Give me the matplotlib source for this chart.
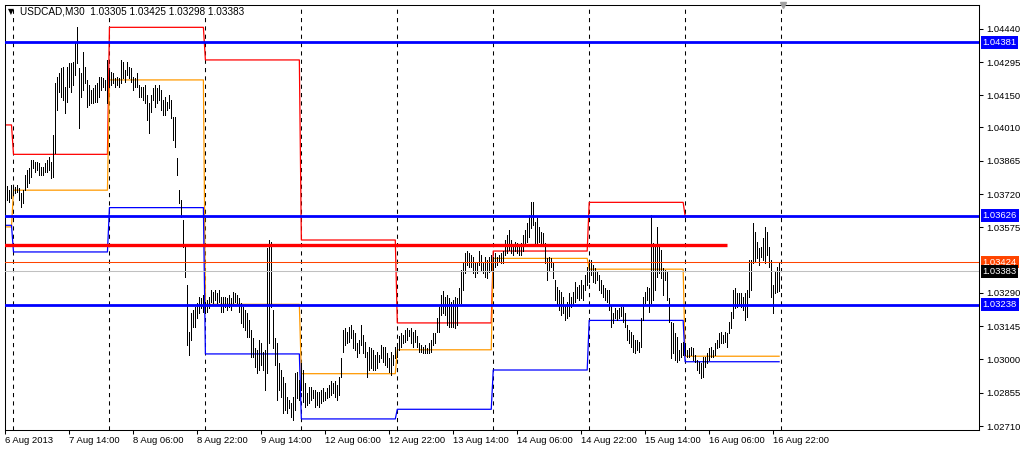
import numpy as np
import pandas as pd
import matplotlib
matplotlib.use("Agg")
import matplotlib.pyplot as plt
import matplotlib.transforms as mtransforms

plt.rcParams["font.family"] = ["Liberation Sans", "DejaVu Sans"]

# USDCAD M30, first bar 6 Aug 2013 22:00, last bar 16 Aug 2013 23:30
first_bar = "2013-08-06 22:00"
last_bar = "2013-08-16 23:30"
last_ohlc = [1.03305, 1.03425, 1.03298, 1.03383]

highs = [
    1.03752, 1.03757, 1.03738, 1.03760, 1.03757, 1.03752, 1.03760, 1.03745, 1.03723, 1.03738,
    1.03803, 1.03825, 1.03832, 1.03869, 1.03869, 1.03861, 1.03861, 1.03854, 1.03839, 1.03839,
    1.03854, 1.03869, 1.03883, 1.03861, 1.03977, 1.04202, 1.04231, 1.04246, 1.04268, 1.04275,
    1.04188, 1.04275, 1.04289, 1.04289, 1.04297, 1.04384, 1.04449, 1.04268, 1.04246, 1.04340,
    1.04275, 1.04217, 1.04195, 1.04173, 1.04180, 1.04195, 1.04202, 1.04231, 1.04231, 1.04224,
    1.04217, 1.04304, 1.04260, 1.04253, 1.04246, 1.04224, 1.04231, 1.04224, 1.04304, 1.04297,
    1.04260, 1.04297, 1.04275, 1.04268, 1.04231, 1.04224, 1.04246, 1.04195, 1.04188, 1.04188,
    1.04195, 1.04151, 1.04115, 1.04151, 1.04180, 1.04195, 1.04180, 1.04195, 1.04173, 1.04130,
    1.04144, 1.04122, 1.04151, 1.04129, 1.04057, 1.04057, 1.03875, 1.03738, 1.03694, 1.03607,
    1.03491, 1.03324, 1.03121, 1.03201, 1.03215, 1.03230, 1.03244, 1.03273, 1.03266, 1.03280,
    1.03251, 1.03259, 1.03273, 1.03302, 1.03295, 1.03302, 1.03288, 1.03302, 1.03273, 1.03273,
    1.03273, 1.03266, 1.03280, 1.03266, 1.03295, 1.03288, 1.03280, 1.03266, 1.03244, 1.03230,
    1.03215, 1.03201, 1.03171, 1.03128, 1.03092, 1.03048, 1.03041, 1.03084, 1.03070, 1.03034,
    1.03041, 1.03484, 1.03520, 1.03513, 1.03215, 1.03092, 1.03070, 1.02983, 1.02954, 1.02925,
    1.02896, 1.02838, 1.02823, 1.02809, 1.02838, 1.02939, 1.02947, 1.02910, 1.02983, 1.02954,
    1.02896, 1.02852, 1.02881, 1.02881, 1.02867, 1.02867, 1.02859, 1.02860, 1.02867, 1.02875,
    1.02860, 1.02875, 1.02889, 1.02904, 1.02896, 1.02904, 1.02889, 1.02925, 1.03005, 1.03129,
    1.03136, 1.03121, 1.03143, 1.03150, 1.03129, 1.03114, 1.03071, 1.03085, 1.03150, 1.03107,
    1.03078, 1.03034, 1.03056, 1.03049, 1.03042, 1.03020, 1.03034, 1.03020, 1.03063, 1.03056,
    1.03056, 1.03027, 1.03005, 1.03034, 1.03020, 1.03056, 1.03063, 1.03100, 1.03114, 1.03107,
    1.03129, 1.03136, 1.03129, 1.03136, 1.03121, 1.03129, 1.03100, 1.03071, 1.03063, 1.03056,
    1.03063, 1.03049, 1.03071, 1.03085, 1.03114, 1.03114, 1.03179, 1.03230, 1.03281, 1.03296,
    1.03274, 1.03281, 1.03267, 1.03252, 1.03259, 1.03274, 1.03267, 1.03310, 1.03390, 1.03419,
    1.03462, 1.03470, 1.03462, 1.03455, 1.03448, 1.03419, 1.03426, 1.03470, 1.03455, 1.03426,
    1.03448, 1.03433, 1.03448, 1.03455, 1.03448, 1.03462, 1.03448, 1.03455, 1.03462, 1.03470,
    1.03520, 1.03542, 1.03564, 1.03520, 1.03499, 1.03513, 1.03506, 1.03491, 1.03506, 1.03542,
    1.03564, 1.03593, 1.03629, 1.03687, 1.03687, 1.03600, 1.03615, 1.03578, 1.03557, 1.03549,
    1.03506, 1.03441, 1.03448, 1.03441, 1.03419, 1.03346, 1.03317, 1.03303, 1.03295, 1.03274,
    1.03237, 1.03252, 1.03288, 1.03274, 1.03295, 1.03339, 1.03317, 1.03324, 1.03346, 1.03324,
    1.03368, 1.03404, 1.03426, 1.03433, 1.03412, 1.03397, 1.03382, 1.03368, 1.03346, 1.03324,
    1.03310, 1.03303, 1.03303, 1.03237, 1.03201, 1.03223, 1.03216, 1.03223, 1.03230, 1.03230,
    1.03201, 1.03150, 1.03128, 1.03121, 1.03106, 1.03085, 1.03085, 1.03077, 1.03179, 1.03273,
    1.03295, 1.03317, 1.03309, 1.03629, 1.03505, 1.03498, 1.03578, 1.03491, 1.03476, 1.03397,
    1.03389, 1.03382, 1.03266, 1.03164, 1.03157, 1.03114, 1.03099, 1.03041, 1.03070, 1.03077,
    1.03070, 1.03041, 1.03048, 1.03056, 1.03048, 1.03019, 1.02997, 1.02990, 1.02983, 1.03012,
    1.03012, 1.03026, 1.03048, 1.03056, 1.03041, 1.03070, 1.03085, 1.03114, 1.03121, 1.03106,
    1.03121, 1.03114, 1.03164, 1.03208, 1.03302, 1.03309, 1.03288, 1.03288, 1.03288, 1.03273,
    1.03288, 1.03302, 1.03433, 1.03433, 1.03592, 1.03556, 1.03513, 1.03484, 1.03491, 1.03527,
    1.03578, 1.03556, 1.03491, 1.03433, 1.03324, 1.03382, 1.03404, 1.03425,
]

lows = [
    1.03680, 1.03694, 1.03687, 1.03702, 1.03716, 1.03723, 1.03731, 1.03694, 1.03665, 1.03680,
    1.03738, 1.03752, 1.03767, 1.03796, 1.03832, 1.03818, 1.03825, 1.03803, 1.03803, 1.03803,
    1.03818, 1.03818, 1.03825, 1.03789, 1.03796, 1.03898, 1.04086, 1.04166, 1.04144, 1.04130,
    1.04072, 1.04122, 1.04188, 1.04166, 1.04195, 1.04239, 1.04289, 1.04006, 1.04144, 1.04173,
    1.04202, 1.04101, 1.04108, 1.04115, 1.04115, 1.04122, 1.04122, 1.04144, 1.04173, 1.04188,
    1.04173, 1.04115, 1.04188, 1.04195, 1.04202, 1.04188, 1.04195, 1.04188, 1.04202, 1.04224,
    1.04210, 1.04239, 1.04224, 1.04210, 1.04173, 1.04188, 1.04188, 1.04144, 1.04144, 1.04130,
    1.04115, 1.04043, 1.03985, 1.04079, 1.04130, 1.04101, 1.04115, 1.04130, 1.04086, 1.04064,
    1.04064, 1.04086, 1.04093, 1.04050, 1.03955, 1.03926, 1.03803, 1.03679, 1.03621, 1.03491,
    1.03360, 1.03063, 1.03019, 1.03084, 1.03142, 1.03142, 1.03179, 1.03201, 1.03222, 1.03208,
    1.03201, 1.03208, 1.03222, 1.03251, 1.03244, 1.03259, 1.03244, 1.03251, 1.03208, 1.03208,
    1.03230, 1.03215, 1.03230, 1.03215, 1.03244, 1.03251, 1.03244, 1.03208, 1.03157, 1.03142,
    1.03128, 1.03099, 1.03099, 1.03012, 1.03012, 1.02968, 1.02939, 1.02954, 1.02976, 1.02954,
    1.02867, 1.02939, 1.03070, 1.03230, 1.03048, 1.02976, 1.02823, 1.02867, 1.02838, 1.02765,
    1.02780, 1.02765, 1.02787, 1.02751, 1.02736, 1.02780, 1.02830, 1.02823, 1.02867, 1.02816,
    1.02794, 1.02801, 1.02809, 1.02823, 1.02830, 1.02794, 1.02801, 1.02795, 1.02809, 1.02817,
    1.02824, 1.02831, 1.02838, 1.02846, 1.02853, 1.02838, 1.02824, 1.02846, 1.02925, 1.03034,
    1.03063, 1.03071, 1.03078, 1.03092, 1.03049, 1.03042, 1.03012, 1.03027, 1.03063, 1.03027,
    1.03012, 1.02925, 1.02955, 1.02962, 1.02955, 1.02955, 1.02962, 1.02991, 1.03005, 1.02991,
    1.02976, 1.02969, 1.02947, 1.02933, 1.02976, 1.03005, 1.03012, 1.03042, 1.03056, 1.03071,
    1.03078, 1.03085, 1.03100, 1.03071, 1.03056, 1.03078, 1.03056, 1.03034, 1.03034, 1.03027,
    1.03027, 1.03027, 1.03027, 1.03034, 1.03063, 1.03071, 1.03121, 1.03121, 1.03194, 1.03201,
    1.03194, 1.03150, 1.03143, 1.03143, 1.03143, 1.03136, 1.03150, 1.03245, 1.03245, 1.03303,
    1.03375, 1.03412, 1.03404, 1.03404, 1.03375, 1.03361, 1.03375, 1.03412, 1.03390, 1.03375,
    1.03361, 1.03353, 1.03382, 1.03390, 1.03317, 1.03404, 1.03412, 1.03426, 1.03419, 1.03419,
    1.03455, 1.03462, 1.03477, 1.03462, 1.03455, 1.03470, 1.03462, 1.03455, 1.03455, 1.03470,
    1.03506, 1.03513, 1.03535, 1.03571, 1.03586, 1.03506, 1.03506, 1.03513, 1.03499, 1.03499,
    1.03419, 1.03346, 1.03390, 1.03404, 1.03353, 1.03259, 1.03237, 1.03216, 1.03194, 1.03201,
    1.03172, 1.03179, 1.03187, 1.03230, 1.03237, 1.03252, 1.03266, 1.03259, 1.03266, 1.03259,
    1.03303, 1.03324, 1.03339, 1.03368, 1.03339, 1.03332, 1.03346, 1.03303, 1.03288, 1.03274,
    1.03259, 1.03252, 1.03216, 1.03143, 1.03158, 1.03179, 1.03172, 1.03179, 1.03187, 1.03165,
    1.03143, 1.03085, 1.03070, 1.03056, 1.03034, 1.03026, 1.03041, 1.03034, 1.03056, 1.03172,
    1.03244, 1.03259, 1.03208, 1.03244, 1.03259, 1.03302, 1.03360, 1.03375, 1.03353, 1.03280,
    1.03346, 1.03259, 1.03164, 1.03005, 1.03026, 1.02997, 1.02990, 1.02997, 1.03012, 1.03019,
    1.03019, 1.03012, 1.03012, 1.03019, 1.02997, 1.02990, 1.02954, 1.02939, 1.02918, 1.02925,
    1.02968, 1.02983, 1.02997, 1.03012, 1.03012, 1.03019, 1.03048, 1.03056, 1.03070, 1.03070,
    1.03077, 1.03056, 1.03114, 1.03135, 1.03179, 1.03222, 1.03230, 1.03237, 1.03230, 1.03215,
    1.03172, 1.03186, 1.03273, 1.03302, 1.03418, 1.03426, 1.03440, 1.03411, 1.03447, 1.03433,
    1.03418, 1.03455, 1.03404, 1.03273, 1.03201, 1.03288, 1.03295, 1.03298,
]

# previous-day levels, one per trading day (6, 7, 8, 9, 12, 13, 14, 15, 16 Aug)
prev_high = [1.04021, 1.03893, 1.04446, 1.04304, 1.03520, 1.03159, 1.03472, 1.03684, 1.03624]
prev_close = [1.03577, 1.03737, 1.04217, 1.03240, 1.02938, 1.03042, 1.03440, 1.03393, 1.03014]
prev_low = [1.03584, 1.03468, 1.03661, 1.03024, 1.02741, 1.02783, 1.02954, 1.03170, 1.02990]

blue_levels = [1.04381, 1.03626, 1.03238]
red_level = 1.03497
red_level_end = "2013-08-16 10:30"
ask = 1.03424
bid = 1.03383

yticks = [1.04440, 1.04295, 1.04150, 1.04010, 1.03865, 1.03720, 1.03575,
          1.03290, 1.03145, 1.03000, 1.02855, 1.02710]

# bar times (weekends skipped)
times = pd.date_range(first_bar, last_bar, freq="30min")
times = times[times.dayofweek < 5]
n = len(times)
highs = np.array(highs[:n])
lows = np.array(lows[:n])
idx = np.arange(n)

days = times.normalize()
day_idx = pd.factorize(days)[0]
day_starts = np.flatnonzero(np.r_[True, days[1:] != days[:-1]])

fig = plt.figure(figsize=(10.24, 4.5), dpi=100)
W, H = 1024, 450
ax = fig.add_axes([4.5 / W, 1 - 430 / H, (979 - 4.5) / W, (430 - 5) / H])
ax.set_xlim(-0.5, 487)
ax.set_ylim(1.026928, 1.045432)

# day separators
for d in list(day_starts[1:]) + [n]:
    ax.axvline(d, color="black", lw=0.75, ls=(0, (4, 4)), zorder=1)

# previous day high / close / low
ax.plot(idx, np.array(prev_high)[day_idx], color="#FF0000", lw=0.9, zorder=2)
ax.plot(idx, np.array(prev_close)[day_idx], color="#FF9900", lw=0.9, zorder=2)
ax.plot(idx, np.array(prev_low)[day_idx], color="#0000FF", lw=0.9, zorder=2)

# bars
ax.vlines(idx, lows, highs, color="black", lw=0.7, antialiased=False, zorder=3)

# ask / bid
ax.axhline(ask, color="#FF4500", lw=0.75, zorder=4)
ax.axhline(bid, color="#C0C0C0", lw=0.75, zorder=4)

# horizontal levels
for lv in blue_levels:
    ax.axhline(lv, color="#0000FF", lw=2.0, zorder=5)
end_i = times.get_loc(pd.Timestamp(red_level_end))
ax.hlines(red_level, -1, end_i, color="#FF0000", lw=2.4, zorder=5)

# right price scale
ax.yaxis.tick_right()
ax.set_yticks(yticks)
ax.set_yticklabels([f"{v:.5f}" for v in yticks])
ax.tick_params(axis="y", length=3, width=0.75, pad=2, labelsize=6.8)

# price tags
trans = mtransforms.blended_transform_factory(ax.transAxes, ax.transData)
tags = [(blue_levels[0], "#0000FF"), (blue_levels[1], "#0000FF"),
        (ask, "#FF4500"), (bid, "#000000"), (blue_levels[2], "#0000FF")]
for val, col in tags:
    ax.annotate(f"{val:.5f}", xy=(1, val), xycoords=trans, xytext=(2.5, 0),
                textcoords="offset points", ha="left", va="center",
                fontsize=6.8, color="white", annotation_clip=False,
                bbox=dict(boxstyle="square,pad=0.2", fc=col, ec="none"))

# time scale
lab_pos = idx[::32]
lab_txt = []
for k, t in enumerate(times[lab_pos]):
    if k == 0:
        lab_txt.append(f"{t.day} {t:%b %Y}")
    else:
        lab_txt.append(f"{t.day} {t:%b %H:%M}")
ax.set_xticks(lab_pos)
ax.set_xticklabels(lab_txt, ha="left")
ax.tick_params(axis="x", length=3, width=0.75, pad=1.5, labelsize=6.8)

for s in ax.spines.values():
    s.set_linewidth(0.75)

# header
fig.text(8 / W, 1 - 12 / H, "▼", fontsize=5.5, va="center", family="DejaVu Sans")
fig.text(20 / W, 1 - 12 / H,
         "USDCAD,M30  " + " ".join(f"{v:.5f}" for v in last_ohlc),
         fontsize=7.2, va="center",
         bbox=dict(boxstyle="square,pad=0.1", fc="white", ec="none"))

# chart shift marker
ax.plot(n + 1, 1.045432, marker="v", color="#A0A0A0", ms=5, clip_on=False, zorder=6)

fig.savefig("out.png", dpi=100)
